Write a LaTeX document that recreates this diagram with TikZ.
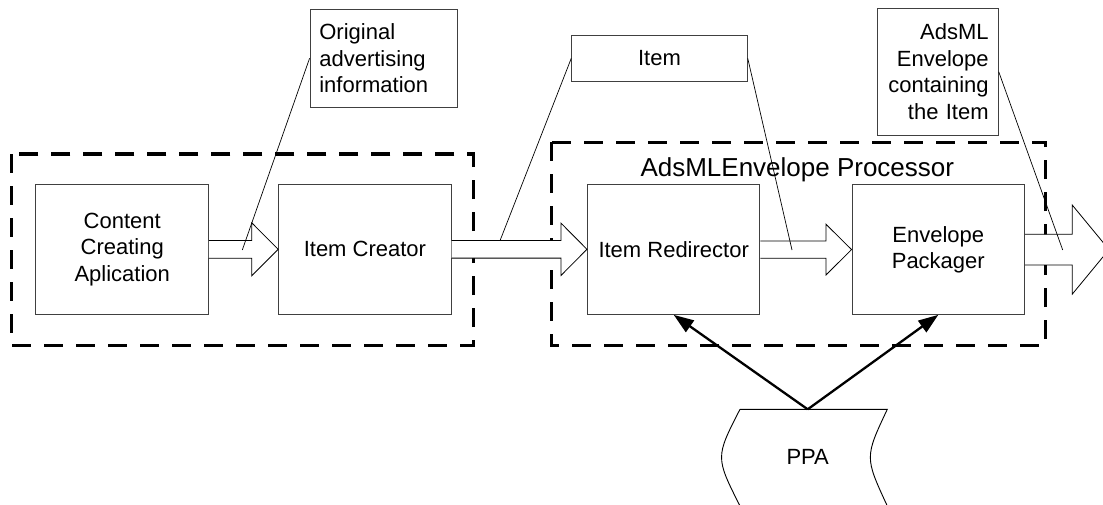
\documentclass[tikz,border=0pt]{standalone}
\usepackage{fontspec}
\setmainfont{Liberation Sans}
\usetikzlibrary{arrows.meta,calc}

% hollow block arrow from anchor #1 to anchor #2:
% #3 shaft half width, #4 head half width, #5 head length
\newcommand\blockarrow[5]{%
  \draw[barrow] let \p1=(#1), \p2=(#2) in
    (\x1,\y1+#3) -- (\x2-#5,\y1+#3) -- (\x2-#5,\y1+#4) -- (\x2,\y1)
    -- (\x2-#5,\y1-#4) -- (\x2-#5,\y1-#3) -- (\x1,\y1-#3);}

\tikzset{
  txt/.style={font=\fontsize{22}{26.5}\selectfont},
  procbox/.style={txt, draw=black!75, line width=1pt, fill=white,
    minimum width=172.5pt, minimum height=129.5pt, inner sep=0pt, align=center},
  note/.style={txt, draw=black!75, line width=0.9pt, fill=white, inner sep=0pt},
  group/.style={draw=black, line width=3.3pt, dash pattern=on 19pt off 13pt},
  barrow/.style={draw=black, line width=0.8pt, fill=white, line join=miter},
  leader/.style={draw=black, line width=0.7pt},
  feed/.style={draw=black, line width=2.3pt, -{Triangle[length=20pt,width=14pt]}},
  outline/.style={draw=black, line width=0.9pt, fill=white},
}

\begin{document}
\begin{tikzpicture}[x=1pt,y=-1pt]
\useasboundingbox (0,0) rectangle (1103,504);

% dashed groupings
\draw[group] (11.7,154) rectangle (473.3,345.7);
\draw[group] (551.7,142.3) rectangle (1045.7,345.7);

% processing steps
\node[procbox] (cca) at (122.2,249.3) {Content\\Creating\\Aplication};
\node[procbox] (ic)  at (364.9,249.3) {Item Creator};
\node[procbox] (ir)  at (673.7,249.6) {Item Redirector};
\node[procbox] (ep)  at (938.3,249.6) {Envelope\\Packager};

\node[txt, font=\fontsize{26}{30}\selectfont, anchor=base] (title) at (797.3,176) {AdsMLEnvelope Processor};

% flow of data
\coordinate (out) at (1109,250.35);
\blockarrow{cca.east}{ic.west}{8.85pt}{26.5pt}{26.4pt}
\blockarrow{ic.east}{ir.west}{8.8pt}{26.2pt}{26pt}
\blockarrow{ir.east}{ep.west}{8.7pt}{25.4pt}{25.6pt}
\blockarrow{ep.east}{out}{15.35pt}{44.5pt}{36.7pt}

% stored data
\draw[outline] (740,409.3) -- (887.3,409.3) .. controls (864.7,457.2) .. (887.3,506)
  -- (740,506) .. controls (715.4,457.2) .. (740,409.3);
\node[txt] (ppa) at (807.7,456.7) {PPA};
\coordinate (ppatop) at (807.7,409.3);
\draw[feed] (ppatop) -- (ir.south);
\draw[feed] (ppatop) -- (ep.south);

% annotations
\node[note, text width=129pt, inner xsep=9.35pt, minimum height=98.7pt, align=left]
  (n1) at (383.85,58.35) {Original\\advertising\\information};
\node[note, minimum width=175.6pt, minimum height=45.3pt] (n2) at (659.5,58.35) {Item};
\node[note, text width=102pt, inner xsep=9.65pt, minimum height=126.3pt, align=right]
  (n3) at (937.65,71.85) {AdsML\\Envelope\\containing\\the Item};

\coordinate (p1) at (242.3,250);
\coordinate (p2) at (500,240.7);
\coordinate (p3) at (792,250);
\coordinate (p4) at (1062.7,250);
\draw[leader] (n1.west) -- (p1);
\draw[leader] (n2.west) -- (p2);
\draw[leader] (n2.east) -- (p3);
\draw[leader] (n3.east) -- (p4);
\end{tikzpicture}
\end{document}
